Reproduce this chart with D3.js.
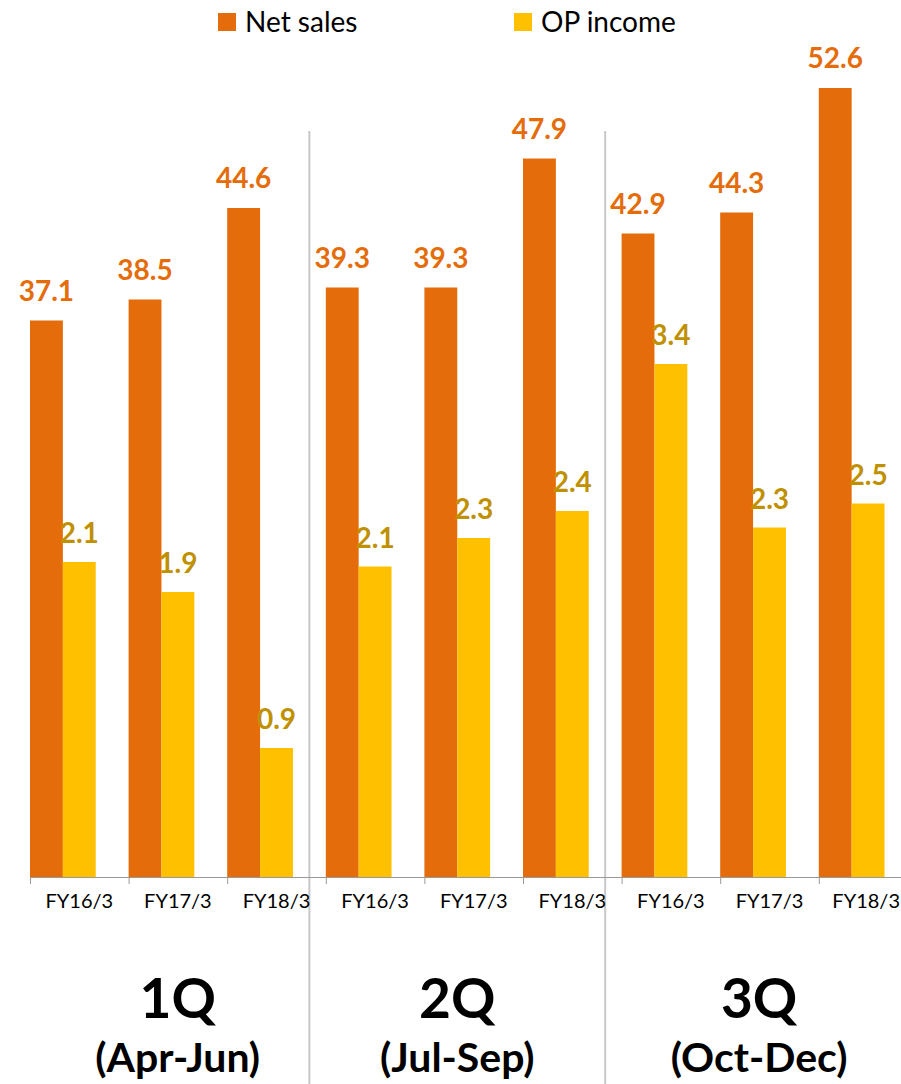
<!DOCTYPE html>
<html>
<head>
<meta charset="utf-8">
<script src="https://cdn.jsdelivr.net/npm/d3@7"></script>
<style>
  body { margin: 0; background: #fff; }
  svg { display: block; font-family: Lato, "Open Sans", sans-serif; }
</style>
</head>
<body>
<svg id="chart" width="901" height="1084"></svg>
<script>
// Data
var periods = ["1Q", "2Q", "3Q"];
var periodNames = ["(Apr-Jun)", "(Jul-Sep)", "(Oct-Dec)"];
var years = ["FY16/3", "FY17/3", "FY18/3"];
var netSales = [37.1, 38.5, 44.6, 39.3, 39.3, 47.9, 42.9, 44.3, 52.6];
var opIncome = [2.10, 1.90, 0.86, 2.07, 2.26, 2.44, 3.42, 2.33, 2.49];

var vars = {
  width: 901,
  height: 1084,
  baseline: 877,
  plotTop: 52,
  left: 30,
  step: 98.6,
  orange: "#E46C0A",
  yellow: "#FFC000",
  yellowText: "#BF9000"
};

var categories = [];
periods.forEach(function(p, i) {
  years.forEach(function(y, j) {
    categories.push({ id: p + "-" + y, period: i, year: y, sales: netSales[i * 3 + j], op: opIncome[i * 3 + j] });
  });
});

var svg = d3.select("#chart");

var xScale = d3.scaleBand()
    .domain(categories.map(function(d) { return d.id; }))
    .range([vars.left, vars.left + vars.step * categories.length])
    .padding(0);

var ySales = d3.scaleLinear().domain([0, 55]).range([vars.baseline, vars.plotTop]);
var yOp = d3.scaleLinear().domain([0, 5.5]).range([vars.baseline, vars.plotTop]);

var barW = xScale.bandwidth() / 3;

// Separators between quarters
var sepX = [];
for (var g = 1; g < periods.length; g++) {
  var prev = categories[g * 3 - 1].id, next = categories[g * 3].id;
  sepX.push((xScale(prev) + 2 * barW + xScale(next)) / 2);
}

svg.selectAll(".sep").data(sepX)
  .enter()
    .append("line")
    .attr("class", "sep")
    .attr("x1", function(d) { return d; })
    .attr("x2", function(d) { return d; })
    .attr("y1", 131)
    .attr("y2", vars.height)
    .attr("stroke", "#C8C8C8")
    .attr("stroke-width", 2);

// Bars
svg.selectAll(".sales").data(categories)
  .enter()
    .append("rect")
    .attr("class", "sales")
    .attr("x", function(d) { return xScale(d.id); })
    .attr("y", function(d) { return ySales(d.sales); })
    .attr("width", barW)
    .attr("height", function(d) { return vars.baseline - ySales(d.sales); })
    .attr("fill", vars.orange);

svg.selectAll(".op").data(categories)
  .enter()
    .append("rect")
    .attr("class", "op")
    .attr("x", function(d) { return xScale(d.id) + barW; })
    .attr("y", function(d) { return yOp(d.op); })
    .attr("width", barW)
    .attr("height", function(d) { return vars.baseline - yOp(d.op); })
    .attr("fill", vars.yellow);

// Value labels
svg.selectAll(".salesLabel").data(categories)
  .enter()
    .append("text")
    .attr("class", "salesLabel")
    .attr("x", function(d) { return xScale(d.id) + barW / 2; })
    .attr("y", function(d) { return ySales(d.sales) - 20; })
    .attr("text-anchor", "middle")
    .attr("font-size", 28)
    .attr("font-weight", "bold")
    .attr("fill", vars.orange)
    .text(function(d) { return d3.format(".1f")(d.sales); });

svg.selectAll(".opLabel").data(categories)
  .enter()
    .append("text")
    .attr("class", "opLabel")
    .attr("x", function(d) { return xScale(d.id) + barW * 1.5; })
    .attr("y", function(d) { return yOp(d.op) - 19; })
    .attr("text-anchor", "middle")
    .attr("font-size", 28)
    .attr("font-weight", "bold")
    .attr("fill", vars.yellowText)
    .text(function(d) { return d3.format(".1f")(d.op); });

// Axis
var xAxis = d3.axisBottom(xScale)
    .tickSize(0)
    .tickPadding(17)
    .tickFormat(function(d) { return d.split("-")[1]; });

var gAxis = svg.append("g")
    .attr("transform", "translate(0," + vars.baseline + ")")
    .call(xAxis);

gAxis.select(".domain").remove();
gAxis.selectAll("text")
    .attr("font-size", 20)
    .attr("font-family", "Lato, sans-serif")
    .attr("fill", "#000");

// keep the last label inside the picture
gAxis.selectAll(".tick").filter(function(d, i) { return i === categories.length - 1; })
    .select("text")
    .attr("text-anchor", "end")
    .attr("x", vars.width - vars.left - vars.step * (categories.length - 0.5) - 1);

gAxis.append("line")
    .attr("x1", vars.left)
    .attr("x2", vars.width)
    .attr("y1", 0.5)
    .attr("y2", 0.5)
    .attr("stroke", "#999");

gAxis.selectAll(".tickMark").data(categories)
  .enter()
    .append("line")
    .attr("class", "tickMark")
    .attr("x1", function(d) { return xScale(d.id) + 0.5; })
    .attr("x2", function(d) { return xScale(d.id) + 0.5; })
    .attr("y1", 0)
    .attr("y2", 7)
    .attr("stroke", "#999");

// Quarter labels
var bounds = [vars.left + 16].concat(sepX, [vars.width + 12]);
var groups = periods.map(function(p, i) {
  return { name: p, sub: periodNames[i], cx: (bounds[i] + bounds[i + 1]) / 2 };
});

svg.selectAll(".period").data(groups)
  .enter()
    .append("text")
    .attr("class", "period")
    .attr("x", function(d) { return d.cx; })
    .attr("y", 1018)
    .attr("text-anchor", "middle")
    .attr("font-size", 55)
    .attr("font-weight", "bold")
    .text(function(d) { return d.name; });

svg.selectAll(".periodSub").data(groups)
  .enter()
    .append("text")
    .attr("class", "periodSub")
    .attr("x", function(d) { return d.cx; })
    .attr("y", 1072)
    .attr("text-anchor", "middle")
    .attr("font-size", 41)
    .attr("font-weight", "bold")
    .text(function(d) { return d.sub; });

// Legend
var legend = [
  { name: "Net sales", color: vars.orange, x: 218 },
  { name: "OP income", color: vars.yellow, x: 514 }
];

var lg = svg.selectAll(".legend").data(legend)
  .enter()
    .append("g")
    .attr("class", "legend")
    .attr("transform", function(d) { return "translate(" + d.x + ",13)"; });

lg.append("rect")
    .attr("width", 18)
    .attr("height", 18)
    .attr("fill", function(d) { return d.color; });

lg.append("text")
    .attr("x", 27)
    .attr("y", 19)
    .attr("font-size", 28)
    .attr("fill", "#000")
    .text(function(d) { return d.name; });
</script>
</body>
</html>
